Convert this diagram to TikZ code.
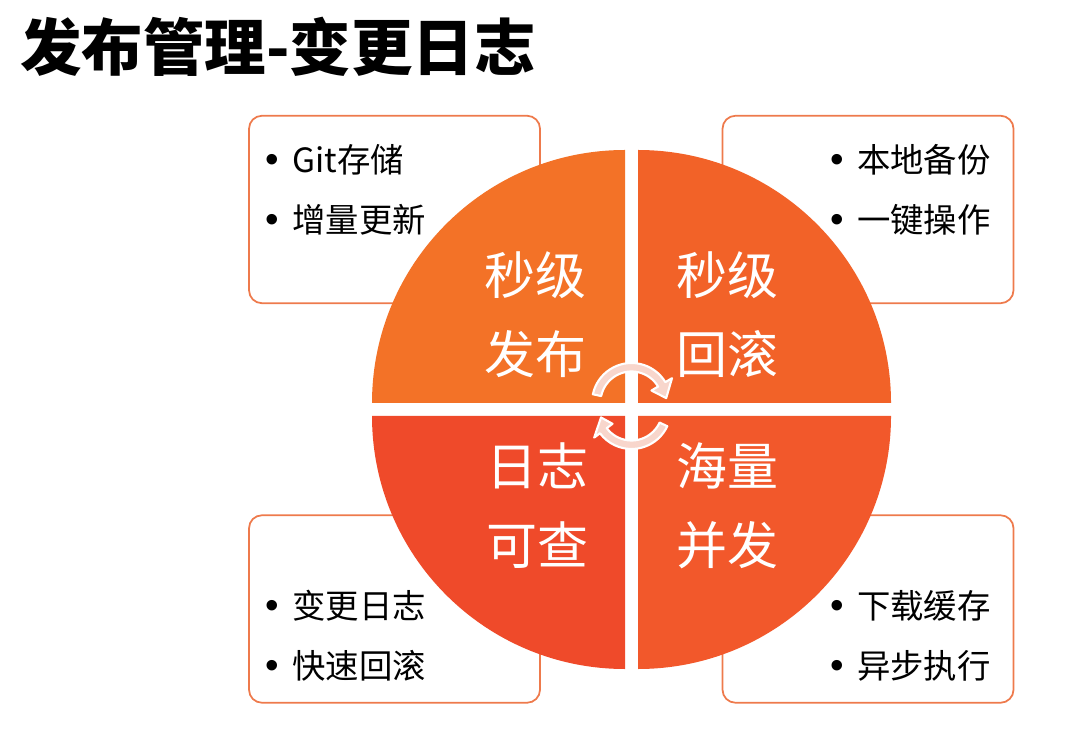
\documentclass[tikz,border=0pt]{standalone}
\usepackage{fontspec}
\setmainfont{Noto Sans CJK SC}
\newfontfamily\vinetafont{Liberation Sans}
\newcommand{\vineta}{{\vinetafont\fontsize{22pt}{34pt}\selectfont•}\hspace{0.27cm}}
\usetikzlibrary{calc}
\definecolor{naranja}{HTML}{F37227}
\definecolor{naranja2}{HTML}{F26228}
\definecolor{rojo}{HTML}{EF4A2A}
\definecolor{coral}{HTML}{F2582B}
\definecolor{rosado}{HTML}{F8D6CC}
\definecolor{borde}{HTML}{EE7A4C}
\definecolor{tinta}{HTML}{000000}
\tikzset{
  caja/.style={rectangle, rounded corners=0.26cm, draw=borde, line width=1pt, fill=white,
               minimum width=5.82cm, minimum height=3.75cm, inner sep=0pt},
  lista/.style={inner sep=0pt, align=left, text=tinta, font=\fontsize{19pt}{34pt}\selectfont},
  etiqueta/.style={inner sep=0pt, align=center, text=white, font=\fontsize{29pt}{45pt}\selectfont},
  titulo/.style={inner sep=0pt, anchor=west, text=tinta, font=\fontsize{35pt}{40pt}\selectfont\bfseries},
  giro/.style={draw=white, line width=1.2pt, fill=rosado, line join=round}
}
\begin{document}
\begin{tikzpicture}
  \useasboundingbox (0,0) rectangle (21.6,14.72);
  \node (titulo) [titulo] at (0.40,13.78) {发布管理-变更日志};
  % cajas
  \node (cajaSI) [caja] at (7.89,10.53) {};
  \node (cajaSD) [caja] at (17.36,10.53) {};
  \node (cajaII) [caja] at (7.89,2.54) {};
  \node (cajaID) [caja] at (17.36,2.54) {};
  \node (listaSI) [lista, anchor=west] at (5.30,10.92) {\vineta Git存储\\\vineta 增量更新};
  \node (listaSD) [lista, anchor=east] at (19.82,10.92) {\vineta 本地备份\\\vineta 一键操作};
  \node (listaII) [lista, anchor=west] at (5.30,2.00) {\vineta 变更日志\\\vineta 快速回滚};
  \node (listaID) [lista, anchor=east] at (19.82,2.00) {\vineta 下载缓存\\\vineta 异步执行};
  % circulo
  \coordinate (centro) at (12.63,6.53);
  \fill [naranja] ($(centro)+(-0.13,0.13)$) -- ++(180:5.06) arc[start angle=180, end angle=90, radius=5.06] -- cycle;
  \fill [naranja2] ($(centro)+(0.13,0.13)$) -- ++(0:5.06) arc[start angle=0, end angle=90, radius=5.06] -- cycle;
  \fill [rojo] ($(centro)+(-0.13,-0.13)$) -- ++(180:5.06) arc[start angle=180, end angle=270, radius=5.06] -- cycle;
  \fill [coral] ($(centro)+(0.13,-0.13)$) -- ++(0:5.06) arc[start angle=0, end angle=-90, radius=5.06] -- cycle;
  \node (etqSI) [etiqueta] at (10.70,8.42) {秒级\\发布};
  \node (etqSD) [etiqueta] at (14.54,8.42) {秒级\\回滚};
  \node (etqII) [etiqueta] at (10.74,4.60) {日志\\可查};
  \node (etqID) [etiqueta] at (14.54,4.60) {海量\\并发};
  % flechas circulares
  \coordinate (arribaC) at (12.63,6.67);
  \coordinate (abajoC) at (12.63,6.53);
  \filldraw [giro] ($(arribaC)+(168:0.79)$) arc[start angle=168, end angle=31, radius=0.79]
    -- ($(arribaC)+(31:0.945)$) -- ($(arribaC)+(31:0.705)+(-72:0.29)$) -- ($(arribaC)+(31:0.465)$)
    -- ($(arribaC)+(31:0.62)$) arc[start angle=31, end angle=168, radius=0.62] -- cycle;
  \filldraw [giro] ($(abajoC)+(-25:0.79)$) arc[start angle=-25, end angle=-143, radius=0.79]
    -- ($(abajoC)+(-143:0.935)$) -- ($(abajoC)+(-143:0.705)+(100:0.27)$) -- ($(abajoC)+(-143:0.475)$)
    -- ($(abajoC)+(-143:0.62)$) arc[start angle=-143, end angle=-25, radius=0.62] -- cycle;
\end{tikzpicture}
\end{document}
